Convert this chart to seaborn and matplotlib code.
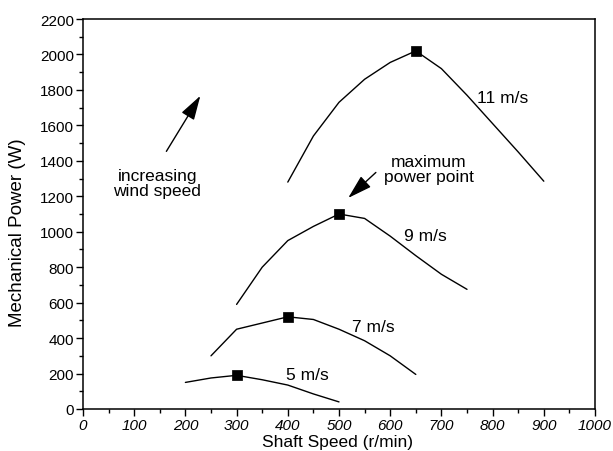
import matplotlib
matplotlib.use("Agg")
import matplotlib.pyplot as plt
import seaborn as sns
import pandas as pd
from matplotlib.ticker import MultipleLocator

speed_5 = [200, 250, 300, 350, 400, 450, 500]
power_5 = [150, 175, 190, 165, 135, 85, 40]
speed_7 = [250, 300, 350, 400, 450, 500, 550, 600, 650]
power_7 = [300, 450, 485, 520, 505, 450, 385, 300, 195]
speed_9 = [300, 350, 400, 450, 500, 550, 600, 650, 700, 750]
power_9 = [590, 800, 950, 1030, 1100, 1075, 975, 865, 760, 675]
speed_11 = [400, 450, 500, 550, 600, 650, 700, 750, 800, 850, 900]
power_11 = [1280, 1540, 1730, 1860, 1955, 2020, 1920, 1770, 1610, 1450, 1285]
labels = ["5 m/s", "7 m/s", "9 m/s", "11 m/s"]
mpp_speed = [300, 400, 500, 650]
mpp_power = [190, 520, 1100, 2020]

sns.set_style("ticks")
plt.rcParams['font.family'] = ['Liberation Sans', 'DejaVu Sans']
plt.rcParams['text.color'] = 'black'
plt.rcParams['axes.labelcolor'] = 'black'
plt.rcParams['xtick.color'] = 'black'
plt.rcParams['ytick.color'] = 'black'

frames = []
for lab, xs, ys in zip(labels, [speed_5, speed_7, speed_9, speed_11],
                       [power_5, power_7, power_9, power_11]):
    frames.append(pd.DataFrame({"speed": xs, "power": ys, "wind": lab}))
df = pd.concat(frames)

fig = plt.figure(figsize=(6.13, 4.52), dpi=100)
ax = fig.add_axes([83/613, 1-410/452, 512/613, 390/452])
sns.lineplot(data=df, x="speed", y="power", units="wind", estimator=None,
             color="black", linewidth=1.0, ax=ax, sort=False)
sns.scatterplot(x=mpp_speed, y=mpp_power, marker="s", s=42, color="black",
                edgecolor="black", ax=ax, zorder=5)

ax.set_xlim(0, 1000)
ax.set_ylim(0, 2200)
ax.xaxis.set_major_locator(MultipleLocator(100))
ax.xaxis.set_minor_locator(MultipleLocator(50))
ax.yaxis.set_major_locator(MultipleLocator(200))
ax.yaxis.set_minor_locator(MultipleLocator(100))
ax.tick_params(which="both", direction="out", color="black", width=1.0)
ax.tick_params(which="major", length=5, labelsize=11, pad=1.5)
ax.tick_params(which="minor", length=3)
for lbl in ax.get_xticklabels():
    lbl.set_fontstyle("italic")
for s in ax.spines.values():
    s.set_color("black")
    s.set_linewidth(1.1)

ax.set_xlabel("Shaft Speed (r/min)", fontsize=12.5)
ax.set_ylabel("Mechanical Power (W)", fontsize=13.5)
ax.xaxis.set_label_coords(0.498, -0.064)
ax.yaxis.set_label_coords(-0.112, 0.454)

fs = 12.5
ax.text(770, 1755, "11 m/s", fontsize=fs, ha="left", va="center")
ax.text(627, 976, "9 m/s", fontsize=fs, ha="left", va="center")
ax.text(525, 463, "7 m/s", fontsize=fs, ha="left", va="center")
ax.text(396, 192, "5 m/s", fontsize=fs, ha="left", va="center")
ax.text(675, 1354, "maximum\npower point", fontsize=fs, ha="center",
        va="center", linespacing=1.0)
ax.text(145, 1275, "increasing\nwind speed", fontsize=fs, ha="center",
        va="center", linespacing=1.0)
ax.annotate("", xy=(232, 1780), xytext=(160, 1440),
            arrowprops=dict(arrowstyle="-|>,head_length=1.5,head_width=0.45",
                            color="black", lw=1))
ax.annotate("", xy=(514, 1180), xytext=(576, 1345),
            arrowprops=dict(arrowstyle="-|>,head_length=1.5,head_width=0.45",
                            color="black", lw=1))

fig.savefig("out.png", dpi=100)
